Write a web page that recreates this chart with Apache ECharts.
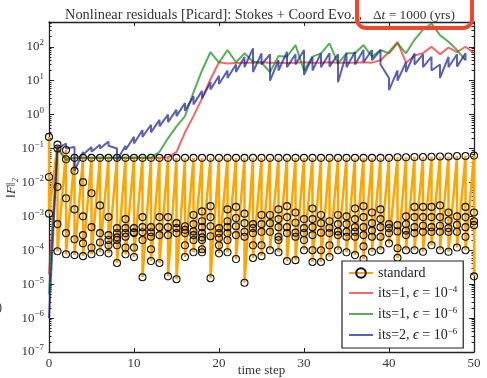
<!DOCTYPE html>
<html><head><meta charset="utf-8">
<script src="https://cdn.jsdelivr.net/npm/echarts@6/dist/echarts.min.js"></script>
<style>html,body{margin:0;padding:0;background:#fff}#c{width:487px;height:378px}</style>
</head><body><div id="c"></div>
<script>
const timeSteps = [0,1,2,3,4,5,6,7,8,9,10,11,12,13,14,15,16,17,18,19,20,21,22,23,24,25,26,27,28,29,30,31,32,33,34,35,36,37,38,39,40,41,42,43,44,45,46,47,48,49,50];

// "standard": all Picard residuals of each time step (first iterate first)
const standardResiduals = [
  [0.22, 0.0145, 1.2e-3],
  [0.13, 0.1, 7.4e-3, 5.9e-4, 9.3e-5],
  [0.09, 0.048, 3.4e-3, 3.2e-4, 7.6e-5],
  [0.053, 0.022, 1.6e-3, 2.1e-4, 7.2e-5],
  [0.053, 0.0102, 1.0e-3, 2.8e-4, 1.6e-4, 6.7e-5],
  [0.053, 4.8e-3, 4.8e-4, 1.2e-4, 7.6e-5],
  [0.053, 2.1e-3, 3.2e-4, 1.7e-4, 8.7e-5],
  [0.053, 9.5e-4, 2.8e-4, 2.0e-4, 1.4e-4, 8.1e-5],
  [0.053, 4.5e-4, 3.2e-4, 2.4e-4, 2.0e-4, 1.4e-4, 4.2e-5],
  [0.053, 8.3e-4, 4.5e-4, 3.2e-4, 2.5e-4, 1.2e-4, 7.6e-5],
  [0.053, 4.5e-4, 3.4e-4, 3.2e-4, 1.2e-4, 6.3e-5],
  [0.053, 9.5e-4, 4.8e-4, 3.4e-4, 2.0e-4, 1.6e-5],
  [0.053, 4.8e-4, 3.4e-4, 2.5e-4, 1.07e-4, 4.8e-5],
  [0.053, 9.5e-4, 4.8e-4, 2.8e-4, 4.2e-5],
  [0.053, 9.5e-4, 4.8e-4, 2.8e-4, 1.7e-5],
  [0.053, 6.3e-4, 4.5e-4, 3.2e-4, 1.4e-5],
  [0.053, 5.1e-4, 4.0e-4, 3.2e-4, 1.4e-4, 6.3e-5],
  [0.053, 1.1e-3, 5.9e-4, 3.6e-4, 2.8e-4, 2.0e-4, 8.7e-5],
  [0.053, 1.4e-3, 7.2e-4, 4.8e-4, 3.2e-4, 2.4e-4, 2.0e-4, 1.07e-4, 8.7e-5],
  [0.053, 2.0e-3, 9.5e-4, 5.1e-4, 2.6e-4, 1.5e-5],
  [0.053, 4.5e-4, 3.2e-4, 2.3e-4, 1.4e-4, 8.1e-5],
  [0.053, 1.6e-3, 7.2e-4, 4.8e-4, 3.2e-4, 2.0e-4, 8.7e-5],
  [0.053, 1.9e-3, 8.9e-4, 5.1e-4, 2.8e-4, 5.5e-5],
  [0.053, 1.2e-3, 6.3e-4, 3.5e-4, 2.5e-4, 1.1e-5],
  [0.053, 5.9e-4, 4.5e-4, 3.2e-4, 1.4e-4, 5.9e-5],
  [0.053, 1.1e-3, 5.9e-4, 3.5e-4, 1.4e-4, 6.7e-5],
  [0.053, 1.1e-3, 6.3e-4, 3.5e-4, 1.0e-4],
  [0.053, 1.6e-3, 8.3e-4, 4.8e-4, 2.5e-4, 2.0e-4, 8.7e-5],
  [0.053, 2.0e-3, 9.5e-4, 4.8e-4, 3.2e-4, 4.8e-5],
  [0.053, 1.3e-3, 6.5e-4, 3.3e-4, 2.5e-4, 5.1e-5],
  [0.053, 8.3e-4, 4.5e-4, 3.2e-4, 2.0e-4, 1.0e-4],
  [0.053, 1.7e-3, 8.3e-4, 4.8e-4, 2.8e-4, 1.0e-4, 4.5e-5],
  [0.053, 1.1e-3, 6.3e-4, 3.3e-4, 1.0e-4, 4.5e-5],
  [0.053, 7.2e-4, 4.6e-4, 3.2e-4, 1.4e-4, 6.3e-5],
  [0.053, 1.1e-3, 5.9e-4, 3.6e-4, 2.8e-4, 1.0e-4],
  [0.053, 1.0e-3, 5.9e-4, 3.5e-4, 2.5e-4, 8.7e-5],
  [0.053, 1.7e-3, 8.3e-4, 4.8e-4, 3.5e-4, 2.5e-4, 7.2e-5],
  [0.053, 2.0e-3, 9.5e-4, 4.8e-4, 2.8e-4, 1.3e-4, 5.5e-5],
  [0.053, 1.3e-3, 6.3e-4, 3.8e-4, 2.5e-4, 9.0e-5],
  [0.053, 1.6e-3, 8.3e-4, 4.8e-4, 2.5e-4, 1.0e-4],
  [0.053, 5.9e-4, 4.5e-4, 3.2e-4, 1.6e-4],
  [0.055, 5.5e-4, 3.6e-4, 1.15e-4, 6.0e-5],
  [0.055, 1.0e-3, 5.9e-4, 3.8e-4, 2.8e-4, 1.0e-4],
  [0.056, 1.9e-3, 9.5e-4, 4.8e-4, 3.2e-4, 1.0e-4],
  [0.056, 1.9e-3, 9.5e-4, 5.3e-4, 3.5e-4, 9.0e-5],
  [0.057, 1.9e-3, 9.5e-4, 4.8e-4, 3.5e-4, 1.4e-4],
  [0.058, 2.1e-3, 9.5e-4, 5.3e-4, 3.5e-4, 1.0e-4],
  [0.058, 1.3e-3, 7.5e-4, 4.5e-4, 3.5e-4, 9.0e-5],
  [0.06, 1.0e-3, 5.6e-4, 3.5e-4, 1.2e-4],
  [0.06, 1.9e-3, 9.5e-4, 4.8e-4, 2.5e-4, 1.0e-4],
  [0.062, 1.3e-3, 7.2e-4, 5.5e-4, 1.7e-5]
];

// its=1, eps=1e-4 (one value per time step 0..50)
const its1Eps4 = [2e-5, 0.1, 0.05, 0.053, 0.053, 0.053, 0.053, 0.053, 0.053, 0.053,
  0.053, 0.053, 0.053, 0.053, 0.055, 0.08, 0.3, 0.9, 3, 11,
  35, 32, 33, 34, 34, 35, 34, 34, 33, 34,
  35, 34, 34, 35, 34, 34, 34, 35, 34, 40,
  70, 140, 34, 55, 65, 100, 60, 95, 70, 100, 65];

// its=1, eps=1e-6 (time steps 0..49)
const its1Eps6 = [5e-6, 0.1, 0.045, 0.053, 0.053, 0.053, 0.053, 0.053, 0.053, 0.053,
  0.053, 0.053, 0.053, 0.08, 0.2, 0.45, 0.9, 4.5, 20, 70,
  34, 80, 35, 64, 36, 34, 18, 53, 51, 112,
  20, 51, 64, 125, 32, 64, 64, 112, 51, 80,
  64, 125, 64, 160, 320, 480, 220, 140, 80, 40];

// its=2, eps=1e-6 : first and second Picard residual of each time step (0..49)
const its2First = [1e-6, 0.12, 0.14, 0.11, 0.08, 0.11, 0.13, 0.16, 0.1, 0.12,
  0.22, 0.35, 0.5, 0.7, 1.0, 1.4, 2.2, 3.5, 5, 9,
  14, 20, 30, 50, 90, 64, 60, 40, 70, 60,
  80, 50, 64, 64, 60, 64, 70, 80, 80, 80,
  12, 20, 35, 64, 60, 50, 30, 50, 60, 64];
const its2Second = [null, 0.1, 0.1, 0.022, 0.065, 0.08, 0.1, 0.12, 0.045, 0.09,
  0.14, 0.22, 0.3, 0.45, 0.6, 0.9, 1.3, 2.0, 3, 5.5,
  8, 12, 18, 25, 18, 30, 10, 20, 25, 30,
  15, 20, 25, 26, 9, 25, 30, 35, 40, 30,
  5.3, 10, 18, 30, 25, 20, 12, 25, 26, 40];

const yMajorTicks = [1e-7,1e-6,1e-5,1e-4,1e-3,1e-2,1e-1,1,10,100];

const SERIF = '"Liberation Serif","DejaVu Serif",serif';

function stackData(lists) {
  const out = [];
  lists.forEach((vals, i) => vals.forEach(v => { if (v != null) out.push([timeSteps[i], v]); }));
  return out;
}
function pairData(a, b) {
  const out = [];
  a.forEach((v, i) => { out.push([timeSteps[i], v]); if (b[i] != null) out.push([timeSteps[i], b[i]]); });
  return out;
}
function simpleData(a) { return a.map((v, i) => [timeSteps[i], v]); }

const minorVals = [];
for (let e = -7; e <= 2; e++) for (let k = 2; k <= 9; k++) { const v = k * Math.pow(10, e); if (v < 537) minorVals.push(v); }

const supRich = {
  b: { fontFamily: SERIF, fontSize: 13, color: '#333' },
  s: { fontFamily: SERIF, fontSize: 9, color: '#333', padding: [0, 0, 8, 0] }
};
function expLabel(v) {
  const e = Math.round(Math.log10(v));
  return '{b|10}{s|' + String(e).replace('-', '\u2212') + '}';
}

const legendNames = {
  'standard': '{n|standard}',
  'r4': '{n|its=1, }{i|\u03f5}{n| = 10}{s|\u22124}',
  'g6': '{n|its=1, }{i|\u03f5}{n| = 10}{s|\u22126}',
  'b6': '{n|its=2, }{i|\u03f5}{n| = 10}{s|\u22126}'
};
const LINE_ICON = 'path://M0,0 H24 V2 H0 Z';

const axisLineStyle = { color: '#222', width: 1.3 };
const titleRich = (size) => ({
  n: { fontFamily: SERIF, fontSize: size, fontWeight: 'normal', color: '#333' },
  i: { fontFamily: SERIF, fontSize: size, fontWeight: 'normal', fontStyle: 'italic', color: '#333' }
});

const chart = echarts.init(document.getElementById('c'), null, { renderer: 'canvas' });
chart.setOption({
  animation: false,
  backgroundColor: '#fff',
  title: [
    {
      text: '{n|Nonlinear residuals [Picard]: Stokes + Coord Evo.., }',
      left: 60, top: 3,
      textStyle: { fontWeight: 'normal', rich: titleRich(14.4) }
    },
    {
      text: '{n|\u0394}{i|t}{n| = 1000 (yrs)}',
      left: 368, top: 4,
      textStyle: { fontWeight: 'normal', rich: titleRich(13.4) }
    }
  ],
  grid: { left: 49, right: 13, top: 22, bottom: 26, containLabel: false, outerBoundsMode: 'none' },
  legend: {
    orient: 'vertical', left: 342, top: 261,
    backgroundColor: '#fff', borderColor: '#222', borderWidth: 1.2,
    padding: [5, 6, 5, 6], itemGap: 5, itemWidth: 24, itemHeight: 12,
    data: [
      { name: 'standard' },
      { name: 'r4', icon: LINE_ICON },
      { name: 'g6', icon: LINE_ICON },
      { name: 'b6', icon: LINE_ICON }
    ],
    formatter: name => legendNames[name],
    textStyle: {
      rich: {
        n: { fontFamily: SERIF, fontSize: 14, color: '#222', lineHeight: 16 },
        i: { fontFamily: SERIF, fontSize: 14, fontStyle: 'italic', color: '#222', lineHeight: 16 },
        s: { fontFamily: SERIF, fontSize: 9, color: '#222', padding: [0, 0, 7, 0], lineHeight: 16 }
      }
    }
  },
  xAxis: [
    {
      type: 'value', min: 0, max: 50, interval: 10, position: 'bottom',
      axisLine: { lineStyle: axisLineStyle },
      axisTick: { inside: true, length: 4, lineStyle: { color: '#222' } },
      axisLabel: { fontFamily: SERIF, fontSize: 13, color: '#333', margin: 5 },
      splitLine: { show: false },
      name: 'time step', nameLocation: 'middle', nameGap: 19, nameMoveOverlap: false,
      nameTextStyle: { fontFamily: SERIF, fontSize: 13, color: '#333', verticalAlign: 'middle' }
    },
    {
      type: 'value', min: 0, max: 50, interval: 10, position: 'top',
      axisLine: { lineStyle: axisLineStyle },
      axisTick: { inside: true, length: 4, lineStyle: { color: '#222' } },
      axisLabel: { show: false }, splitLine: { show: false }
    }
  ],
  yAxis: [
    {
      type: 'log', logBase: 10, min: 1e-7, max: 537, position: 'left',
      axisLine: { lineStyle: axisLineStyle },
      axisTick: { inside: true, length: 5, customValues: yMajorTicks, lineStyle: { color: '#222' } },
      axisLabel: { customValues: yMajorTicks, formatter: expLabel, rich: supRich, margin: 5 },
      splitLine: { show: false }
    },
    {
      type: 'log', logBase: 10, min: 1e-7, max: 537, position: 'left',
      axisLine: { show: false },
      axisTick: { inside: true, length: 2.5, customValues: minorVals, lineStyle: { color: '#222' } },
      axisLabel: { show: false }, splitLine: { show: false }
    },
    {
      type: 'log', logBase: 10, min: 1e-7, max: 537, position: 'right',
      axisLine: { show: true, lineStyle: axisLineStyle },
      axisTick: { inside: true, length: 5, customValues: yMajorTicks, lineStyle: { color: '#222' } },
      axisLabel: { show: false }, splitLine: { show: false }
    },
    {
      type: 'log', logBase: 10, min: 1e-7, max: 537, position: 'right',
      axisLine: { show: false },
      axisTick: { inside: true, length: 2.5, customValues: minorVals, lineStyle: { color: '#222' } },
      axisLabel: { show: false }, splitLine: { show: false }
    }
  ],
  series: [
    {
      name: 'standard', type: 'line', data: stackData(standardResiduals),
      showAllSymbol: true, symbol: 'circle', symbolSize: 7, sampling: null,
      lineStyle: { color: '#ffa500', width: 2.5 },
      itemStyle: { color: 'rgba(0,0,0,0)', borderColor: '#111', borderWidth: 1.1 },
      emphasis: { disabled: true }
    },
    {
      name: 'r4', type: 'line', data: simpleData(its1Eps4), symbol: 'none',
      lineStyle: { color: 'rgba(238,40,40,0.7)', width: 2 }, itemStyle: { color: 'rgba(238,40,40,0.7)' }
    },
    {
      name: 'g6', type: 'line', data: simpleData(its1Eps6), symbol: 'none',
      lineStyle: { color: 'rgba(20,140,20,0.7)', width: 2 }, itemStyle: { color: 'rgba(20,140,20,0.7)' }
    },
    {
      name: 'b6', type: 'line', data: pairData(its2First, its2Second), symbol: 'none',
      lineStyle: { color: 'rgba(20,30,150,0.7)', width: 2 }, itemStyle: { color: 'rgba(20,30,150,0.7)' }
    }
  ],
  graphic: [
    {
      type: 'text', left: 5, top: 178, rotation: Math.PI / 2,
      style: { text: '\u2016F\u2016\u2082', fontFamily: SERIF, fontStyle: 'italic', fontSize: 13, fill: '#333' }
    },
    { type: 'text', x: -2, y: 302, style: { text: ')', fontFamily: SERIF, fontSize: 12, fill: '#333' } },
    {
      type: 'rect', z: 100,
      shape: { x: 357, y: -25, width: 115, height: 53, r: 9 },
      style: { fill: 'none', stroke: '#f2462f', lineWidth: 4 }
    }
  ]
});
</script></body></html>
